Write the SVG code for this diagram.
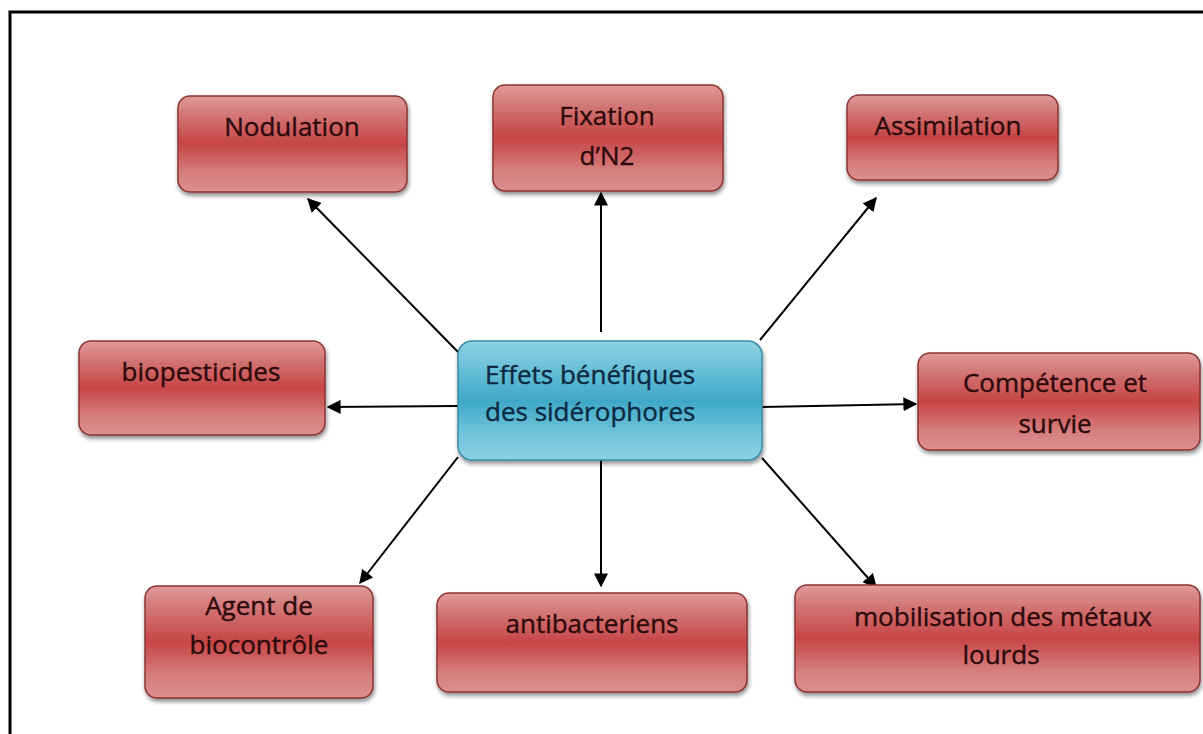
<svg xmlns="http://www.w3.org/2000/svg" width="1203" height="734" viewBox="0 0 1203 734">
<defs>
<linearGradient id="gRed" x1="0" y1="0" x2="0" y2="1">
<stop offset="0" stop-color="#e09a9a"/>
<stop offset="0.2" stop-color="#d27676"/>
<stop offset="0.5" stop-color="#c64546"/>
<stop offset="0.8" stop-color="#d67e7e"/>
<stop offset="1" stop-color="#da8f8f"/>
</linearGradient>
<linearGradient id="gBlue" x1="0" y1="0" x2="0" y2="1">
<stop offset="0" stop-color="#8dd2e4"/>
<stop offset="0.2" stop-color="#70c3db"/>
<stop offset="0.5" stop-color="#3ea8c6"/>
<stop offset="0.8" stop-color="#74c6dc"/>
<stop offset="1" stop-color="#8ed1e2"/>
</linearGradient>
<filter id="sh" x="-10%" y="-10%" width="120%" height="130%">
<feGaussianBlur in="SourceAlpha" stdDeviation="2"/>
<feOffset dx="1" dy="3"/>
<feComponentTransfer><feFuncA type="linear" slope="0.45"/></feComponentTransfer>
<feMerge><feMergeNode/><feMergeNode in="SourceGraphic"/></feMerge>
</filter>
<marker id="ah" viewBox="0 0 10 10" refX="9" refY="5" markerWidth="7" markerHeight="7" markerUnits="strokeWidth" orient="auto">
<path d="M0,0 L10,5 L0,10 z" fill="#000"/>
</marker>
<style>
.red{fill:url(#gRed);stroke:#8a3434;stroke-width:1.5;filter:url(#sh)}
.blue{fill:url(#gBlue);stroke:#3a8ca6;stroke-width:1.5;filter:url(#sh)}
.t{font-family:"Open Sans","DejaVu Sans",sans-serif;font-size:26px;font-weight:500;fill:#2e0a0c;stroke:#2e0a0c;stroke-width:0.4;text-anchor:middle}
.tc{font-family:"Open Sans","DejaVu Sans",sans-serif;font-size:26px;font-weight:500;fill:#0c2a42;stroke:#0c2a42;stroke-width:0.4}
.c{stroke:#000;stroke-width:2;fill:none;marker-end:url(#ah)}
</style>
</defs>
<rect x="0" y="0" width="1203" height="734" fill="#fff"/>
<rect x="10" y="12" width="1205" height="740" fill="none" stroke="#000" stroke-width="3"/>
<g id="connectors">
<line class="c" x1="458" y1="352" x2="308" y2="199"/>
<line class="c" x1="601" y1="332" x2="601" y2="193"/>
<line class="c" x1="760" y1="340" x2="876" y2="198"/>
<line class="c" x1="458" y1="406" x2="328" y2="407"/>
<line class="c" x1="762" y1="407" x2="916" y2="404"/>
<line class="c" x1="458" y1="457" x2="360" y2="583"/>
<line class="c" x1="601" y1="460" x2="601" y2="586"/>
<line class="c" x1="762" y1="458" x2="876" y2="587"/>
</g>
<g id="nodulation">
<rect class="red" x="178" y="96" width="229" height="96" rx="12"/>
<text class="t" x="292" y="136">Nodulation</text>
</g>
<g id="fixation">
<rect class="red" x="493" y="85" width="230" height="106" rx="12"/>
<text class="t" x="607" y="125">Fixation</text>
<text class="t" x="607" y="165">d’N2</text>
</g>
<g id="assimilation">
<rect class="red" x="847" y="95" width="211" height="85" rx="12"/>
<text class="t" x="948" y="135">Assimilation</text>
</g>
<g id="biopesticides">
<rect class="red" x="79" y="341" width="246" height="94" rx="12"/>
<text class="t" x="201" y="381">biopesticides</text>
</g>
<g id="center">
<rect class="blue" x="458" y="341" width="304" height="119" rx="14"/>
<text class="tc" x="485" y="384">Effets bénéfiques</text>
<text class="tc" x="485" y="421">des sidérophores</text>
</g>
<g id="competence">
<rect class="red" x="918" y="353" width="282" height="97" rx="12"/>
<text class="t" x="1055" y="392">Compétence et</text>
<text class="t" x="1055" y="433">survie</text>
</g>
<g id="agent">
<rect class="red" x="145" y="586" width="228" height="112" rx="12"/>
<text class="t" x="259" y="615">Agent de</text>
<text class="t" x="259" y="654">biocontrôle</text>
</g>
<g id="antibacteriens">
<rect class="red" x="437" y="593" width="310" height="99" rx="12"/>
<text class="t" x="592" y="633">antibacteriens</text>
</g>
<g id="mobilisation">
<rect class="red" x="795" y="585" width="405" height="107" rx="12"/>
<text class="t" x="1003" y="626">mobilisation des métaux</text>
<text class="t" x="1001" y="664">lourds</text>
</g>
</svg>
